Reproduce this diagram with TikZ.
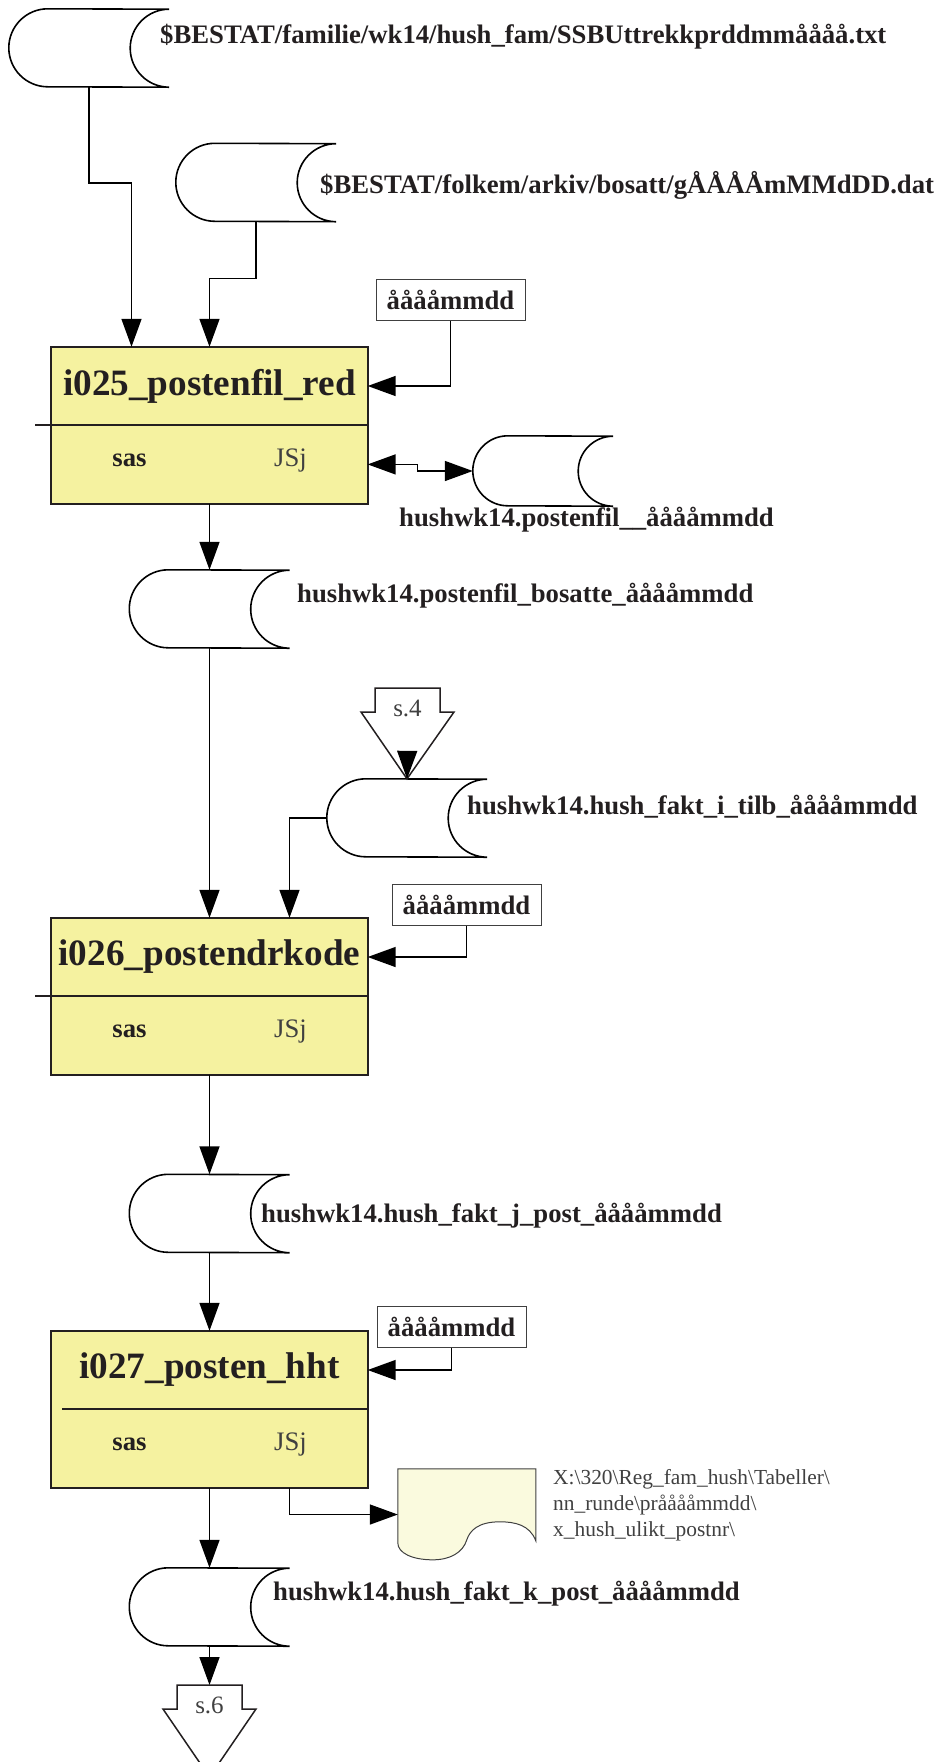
\documentclass[tikz,border=0pt]{standalone}
\usepackage{fontspec}
\setmainfont{Liberation Serif}
\usepackage{tikz}
\usetikzlibrary{arrows.meta}
\usetikzlibrary{positioning}
\definecolor{procfill}{RGB}{245,242,160}
\definecolor{docfill}{RGB}{250,250,222}
\definecolor{ink}{RGB}{35,31,32}
\definecolor{greyink}{RGB}{64,64,64}
\tikzset{
    flow/.style={
           line width=1.5pt,
           -{Triangle[length=28pt,width=20pt]},
           },
}
\tikzset{
    flowboth/.style={
           line width=1.5pt,
           {Triangle[length=28pt,width=20pt]}-{Triangle[length=28pt,width=20pt]},
           },
}
\tikzset{
    tapebox/.style={
           rectangle,
           inner sep=0pt,
           minimum width=160pt,
           minimum height=78pt,
           },
}
\tikzset{
    tapeline/.style={
           line width=1.6pt,
           fill=white,
           },
}
\tikzset{
    tapelabel/.style={
           anchor=west,
           inner sep=0pt,
           text=ink,
           font=\fontsize{26.7}{30}\selectfont\bfseries,
           },
}
\tikzset{
    proctitle/.style={
           rectangle,
           fill=procfill,
           minimum width=316pt,
           minimum height=78pt,
           inner sep=0pt,
           text=ink,
           font=\fontsize{37.2}{42}\selectfont\bfseries,
           },
}
\tikzset{
    procbody/.style={
           rectangle,
           fill=procfill,
           minimum width=316pt,
           minimum height=78pt,
           inner sep=0pt,
           },
}
\tikzset{
    boxline/.style={
           line width=2pt,
           draw=ink,
           },
}
\tikzset{
    param/.style={
           rectangle,
           draw=greyink, line width=1pt,
           minimum width=149pt,
           minimum height=41pt,
           inner sep=0pt,
           text=ink,
           font=\fontsize{26.7}{30}\selectfont\bfseries,
           },
}
\tikzset{
    langlabel/.style={
           inner sep=0pt,
           text=ink,
           font=\fontsize{26.7}{30}\selectfont\bfseries,
           },
}
\tikzset{
    initials/.style={
           inner sep=0pt,
           text=greyink,
           font=\fontsize{26.7}{30}\selectfont,
           },
}
\tikzset{
    pagemark/.style={
           anchor=base,
           inner sep=0pt,
           text=greyink,
           font=\fontsize{25}{28}\selectfont,
           },
}
\tikzset{
    docnote/.style={
           anchor=north west,
           align=left,
           inner sep=0pt,
           text=greyink,
           font=\fontsize{21.4}{26}\selectfont,
           },
}
\newcommand{\datatape}[2]{%
  \draw[tapeline] ([xshift=#2pt]#1.north west)
    arc[start angle=90,end angle=270,x radius=#2pt,y radius=#2pt]
    -- (#1.south east)
    arc[start angle=270,end angle=90,x radius=#2pt,y radius=#2pt]
    -- cycle;
}
\newcommand{\offpagemark}[2]{%
  \draw[line width=1.5pt,draw=ink] ([shift={(-32.5pt,4pt)}]#1.base) -- ++(0pt,24pt) -- ++(65pt,0pt)
    -- ++(0pt,-24pt) -- ++(14pt,0pt) -- (#2) -- ([shift={(-46.5pt,4pt)}]#1.base) -- cycle;
}

\begin{document}
\begin{tikzpicture}[x=1pt,y=-1pt]
\useasboundingbox (0,0) rectangle (935,1762);

\node[tapebox](t1) at (89,48){};
\datatape{t1}{39}
\node[tapelabel](l1) at (160,37){\$BESTAT/familie/wk14/hush\_fam/SSBUttrekkprddmmåååå.txt};
\node[tapebox](t2) at (256,182.5){};
\datatape{t2}{39}
\node[tapelabel](l2) at (320,185){\$BESTAT/folkem/arkiv/bosatt/gÅÅÅÅmMMdDD.dat};

\node[proctitle](i025) at (209.5,386){i025\_postenfil\_red};
\node[procbody,below=0pt of i025](i025b){};
\draw[boxline] (i025.north west) rectangle (i025b.south east);
\draw[boxline] ([xshift=-16pt]i025.south west) -- (i025.south east);
\node[langlabel](sas1) at ([shift={(-80pt,4pt)}]i025b.center){sas};
\node[initials](jsj1) at ([shift={(81pt,4pt)}]i025b.center){JSj};
\node[param](par1) at (450.5,299.5){ååååmmdd};

\draw[flow] (t1.south) -- ++(0,96) -| ([xshift=-78pt]i025.north);
\draw[flow] (t2.south) -- ++(0,57) -| (i025.north);
\draw[flow] (par1.south) |- (i025.east);

\node[tapebox,minimum width=140pt,minimum height=70pt](t3) at (543,471){};
\datatape{t3}{35}
\node[tapelabel](l3) at (399,520){hushwk14.postenfil\_\_ååååmmdd};
\draw[flowboth] (i025b.east) -- ++(50,0) |- (t3.west);

\node[tapebox](t4) at (209.5,609){};
\datatape{t4}{39}
\node[tapelabel](l4) at (297,596){hushwk14.postenfil\_bosatte\_ååååmmdd};
\draw[flow] (i025b.south) -- (t4.north);

\node[pagemark](s4) at (407.5,716){s.4};
\node[tapebox](t5) at (407,818){};
\datatape{t5}{39}
\node[tapelabel](l5) at (467,807){hushwk14.hush\_fakt\_i\_tilb\_ååååmmdd};
\offpagemark{s4}{t5.north}
\draw[flow,shorten <=35pt] (s4.base) -- (t5.north);

\node[proctitle](i026) at (209.5,957){i026\_postendrkode};
\node[procbody,below=0pt of i026](i026b){};
\draw[boxline] (i026.north west) rectangle (i026b.south east);
\draw[boxline] ([xshift=-16pt]i026.south west) -- (i026.south east);
\node[langlabel](sas2) at ([shift={(-80pt,4pt)}]i026b.center){sas};
\node[initials](jsj2) at ([shift={(81pt,4pt)}]i026b.center){JSj};
\node[param](par2) at (466.5,904.5){ååååmmdd};

\draw[flow] (t4.south) -- (i026.north);
\draw[flow] (t5.west) -| ([xshift=80pt]i026.north);
\draw[flow] (par2.south) |- (i026.east);

\node[tapebox](t6) at (209.5,1213.5){};
\datatape{t6}{39}
\node[tapelabel](l6) at (261,1216){hushwk14.hush\_fakt\_j\_post\_ååååmmdd};
\draw[flow] (i026b.south) -- (t6.north);

\node[proctitle](i027) at (209.5,1370){i027\_posten\_hht};
\node[procbody,below=0pt of i027](i027b){};
\draw[boxline] (i027.north west) rectangle (i027b.south east);
\draw[boxline] ([xshift=11pt]i027.south west) -- (i027.south east);
\node[langlabel](sas3) at ([shift={(-80pt,4pt)}]i027b.center){sas};
\node[initials](jsj3) at ([shift={(81pt,4pt)}]i027b.center){JSj};
\node[param](par3) at (451.5,1327){ååååmmdd};

\draw[flow] (t6.south) -- (i027.north);
\draw[flow] (par3.south) |- (i027.east);

\node[minimum width=138pt,minimum height=91pt,inner sep=0pt](docout) at (467,1514.5){};
\begin{scope}[shift={(docout.north west)}]
\draw[line width=1pt,draw=greyink,fill=docfill] (0,0) -- (138,0) -- (138,72)
  .. controls (132,56) and (117,53) .. (102,53)
  .. controls (80,53) and (72,62) .. (69,71)
  .. controls (65,84) and (52,91) .. (35,91)
  .. controls (14,91) and (0,84) .. (0,74) -- cycle;
\end{scope}
\node[docnote](note) at (553,1469){X:\textbackslash 320\textbackslash Reg\_fam\_hush\textbackslash Tabeller\textbackslash\\nn\_runde\textbackslash prååååmmdd\textbackslash\\x\_hush\_ulikt\_postnr\textbackslash};
\draw[flow] ([xshift=80pt]i027b.south) |- (docout.west);

\node[tapebox](t7) at (209.5,1607){};
\datatape{t7}{39}
\node[tapelabel](l7) at (273,1594){hushwk14.hush\_fakt\_k\_post\_ååååmmdd};
\draw[flow] (i027b.south) -- (t7.north);

\node[pagemark](s6) at (209.5,1713){s.6};
\coordinate (s6top) at ([yshift=28pt]s6.base);
\coordinate (s6tip) at ([yshift=-64pt]s6.base);
\draw[flow] (t7.south) -- (s6top);
\offpagemark{s6}{s6tip}
\end{tikzpicture}
\end{document}
